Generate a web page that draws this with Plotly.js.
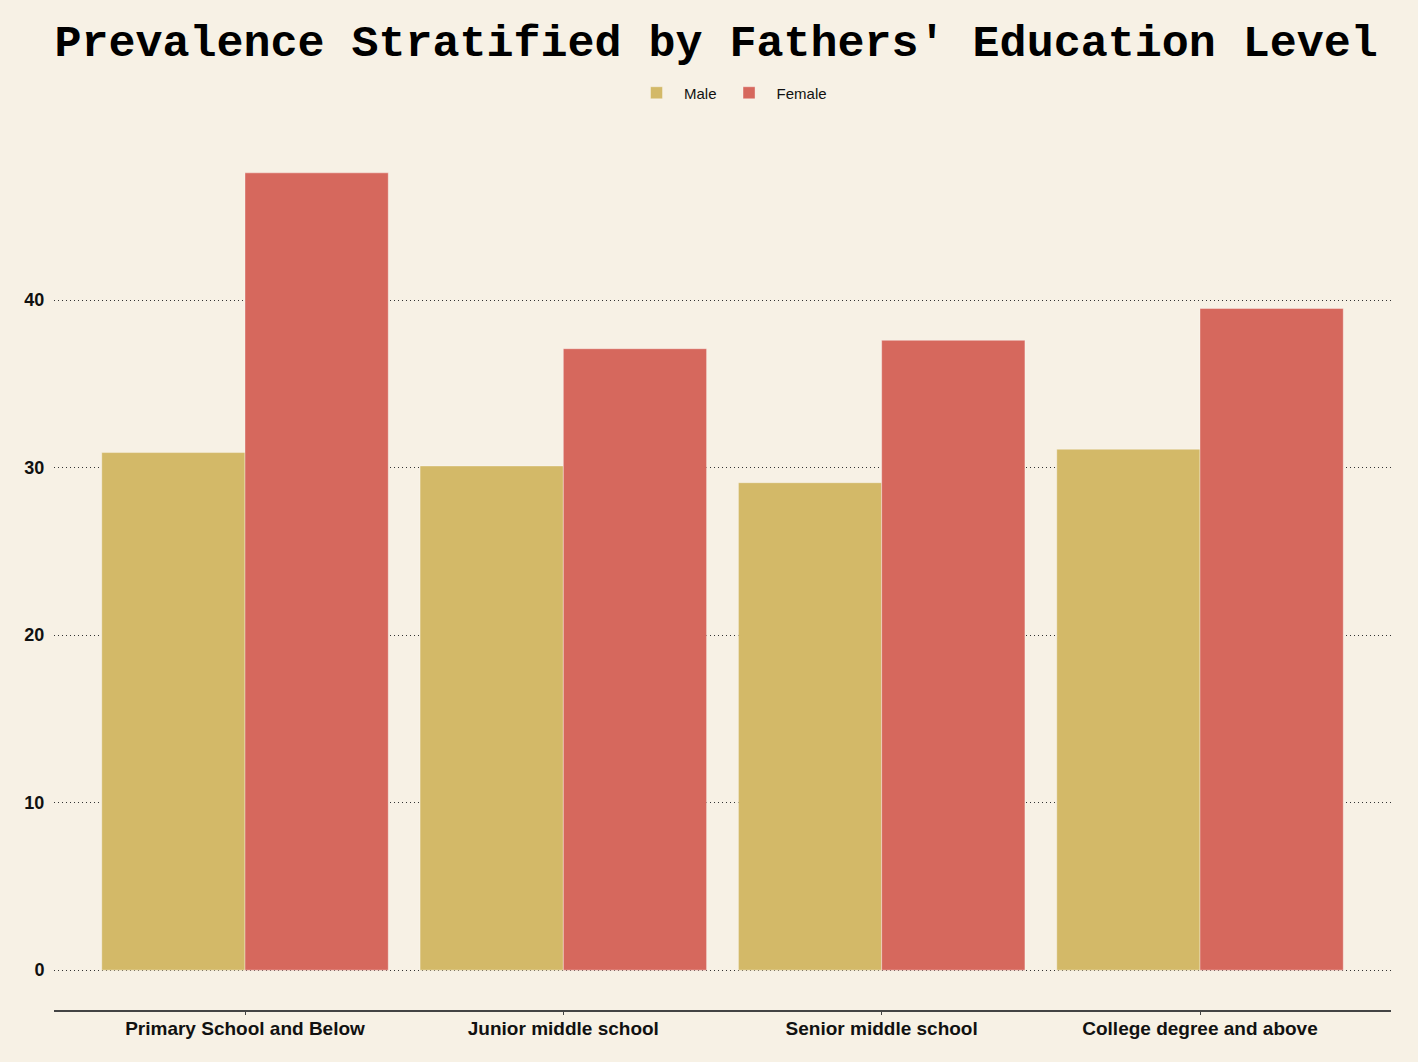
<!DOCTYPE html>
<html>
<head>
<meta charset="utf-8">
<script src="https://cdn.plot.ly/plotly-3.0.1.min.js"></script>
<style>html,body{margin:0;padding:0;background:#F7F1E5;}</style>
</head>
<body>
<div id="chart" style="width:1418px;height:1062px;"></div>
<script>
const categories = ["Primary School and Below", "Junior middle school", "Senior middle school", "College degree and above"];
const maleValues = [30.9, 30.1, 29.1, 31.1];
const femaleValues = [47.6, 37.1, 37.6, 39.5];
const yTicks = [0, 10, 20, 30, 40];

const traces = [
  {type: "bar", name: "Male", x: categories, y: maleValues,
   marker: {color: "#D3B968", line: {color: "rgba(255,255,255,0.35)", width: 1}}},
  {type: "bar", name: "Female", x: categories, y: femaleValues,
   marker: {color: "#D6685D", line: {color: "rgba(255,255,255,0.35)", width: 1}}}
];

const layout = {
  width: 1418, height: 1062,
  paper_bgcolor: "#F7F1E5", plot_bgcolor: "#F7F1E5",
  margin: {l: 54, r: 27, t: 133, b: 52},
  barmode: "group", bargap: 0.1, bargroupgap: 0,
  title: {text: "Prevalence Stratified by Fathers' Education Level",
          font: {family: "Liberation Mono, Courier New, monospace", size: 45, color: "#000", weight: "bold"},
          x: 0.505, xanchor: "center", y: 1 - 40/1062, yanchor: "middle", yref: "container"},
  legend: {orientation: "h", x: 0.506, xanchor: "center", y: 1.0456, yanchor: "middle",
           font: {family: "Liberation Sans, Arial, sans-serif", size: 15, color: "#111"},
           bgcolor: "rgba(0,0,0,0)", itemwidth: 45},
  xaxis: {type: "category", range: [-0.6, 3.6], showgrid: false, zeroline: false,
          showline: true, linecolor: "#444", linewidth: 2,
          ticks: "outside", ticklen: 3, tickcolor: "#444", tickwidth: 1, ticklabelstandoff: -3,
          tickfont: {family: "Liberation Sans, Arial, sans-serif", size: 19, color: "#111", weight: "bold"}},
  yaxis: {range: [-2.38, 49.98], tickvals: yTicks, showgrid: true, gridcolor: "#333", gridwidth: 1,
          griddash: "1px,3px", zeroline: false, showline: false, ticks: "outside", ticklen: 5,
          tickcolor: "rgba(0,0,0,0)",
          tickfont: {family: "Liberation Sans, Arial, sans-serif", size: 18, color: "#111", weight: "bold"}}
};

Plotly.newPlot("chart", traces, layout, {displayModeBar: false});
</script>
</body>
</html>
